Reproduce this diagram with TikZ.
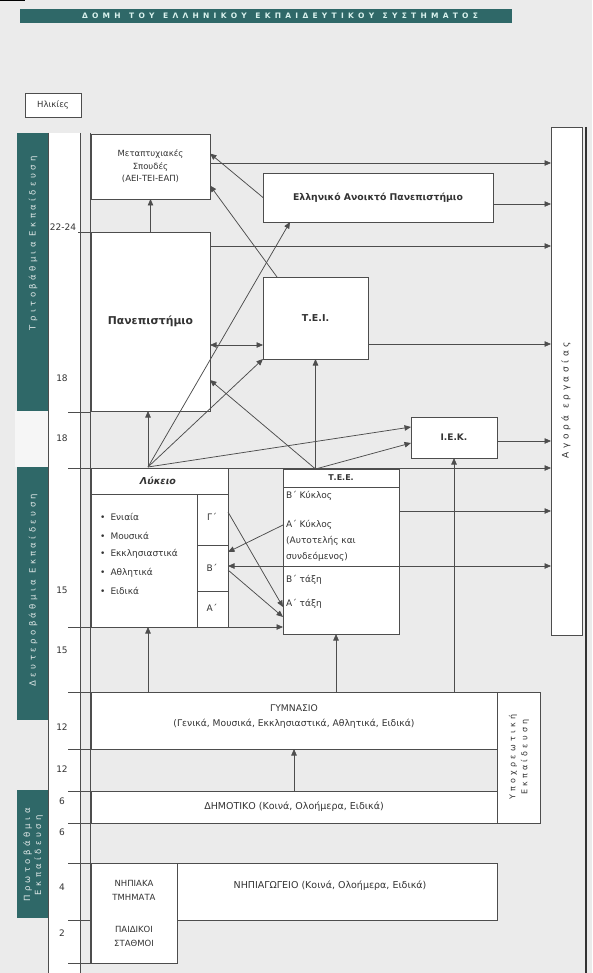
\documentclass[tikz,border=0pt]{standalone}
\usepackage{fontspec}
\setmainfont{DejaVu Sans}
\newfontfamily\spfont[LetterSpace=40]{DejaVu Sans}
\usetikzlibrary{arrows.meta,calc}
\definecolor{bg}{HTML}{EBEBEB}
\definecolor{teal1}{HTML}{2F6868}
\definecolor{lc}{HTML}{4D4D4D}
\definecolor{tc}{HTML}{333333}
\definecolor{ttl}{HTML}{D9F2EE}
\begin{document}
\begin{tikzpicture}[x=1pt,y=-1pt,
  bx/.style={draw=lc,fill=white,line width=0.9pt,inner sep=0pt,outer sep=0pt,anchor=north west,text=tc,align=center,font=\fontsize{8.5}{12.5}\selectfont},
  arr/.style={draw=lc,line width=0.75pt,-{Triangle[length=6.5pt,width=5.5pt]}},
  darr/.style={draw=lc,line width=0.75pt,{Triangle[length=6.5pt,width=5.5pt]}-{Triangle[length=6.5pt,width=5.5pt]}},
  ln/.style={draw=lc,line width=0.9pt},
  txt/.style={text=tc,inner sep=0pt,font=\fontsize{9}{10}\selectfont},
  side/.style={text=white!85!teal1,inner sep=0pt,rotate=90,align=center,font=\spfont\fontsize{8.5}{11}\selectfont},
  age/.style={text=tc,inner sep=0pt,font=\fontsize{9}{10}\selectfont},
]
\useasboundingbox (0,0) rectangle (592,973);
\fill[bg] (0,0) rectangle (592,973);
\fill[black] (0,0) rectangle (25,1.5);
\draw[black!80,line width=1.5pt] (586,127) -- (586,973);

% title
\fill[teal1] (20,9) rectangle (512,23);
\node[text=ttl,inner sep=0pt,font=\bfseries\fontsize{7.5}{8}\selectfont] (title) at (280,16)
  {\makebox[396pt][s]{Δ Ο Μ Η\ \ Τ Ο Υ\ \ Ε Λ Λ Η Ν Ι Κ Ο Υ\ \ Ε Κ Π Α Ι Δ Ε Υ Τ Ι Κ Ο Υ\ \ Σ Υ Σ Τ Η Μ Α Τ Ο Σ}};

% ages box
\node[bx,minimum width=56,minimum height=24] (ages) at (25,93) {Ηλικίες};

% left column
\fill[white] (48,133) rectangle (80,973);
\fill[white!55!bg] (15,411) rectangle (48,467);
\fill[teal1] (17,133) rectangle (48,411);
\fill[teal1] (17,467) rectangle (48,720);
\fill[teal1] (17,790) rectangle (48,918);
\draw[ln,line width=0.6pt] (48,133) -- (48,973);
\draw[ln] (80,133) -- (80,973);
\draw[ln] (90,133) -- (90,963);
\draw[ln] (78,232) -- (91,232);
\foreach \yy in {412,468,627,692,749,791,823,863,920,963} \draw[ln] (68,\yy) -- (91,\yy);

\node[side] (s1) at (33,243) {Τριτοβάθμια Εκπαίδευση};
\node[side] (s2) at (33,590) {Δευτεροβάθμια Εκπαίδευση};
\node[side] (s3) at (33,855) {Πρωτοβάθμια\\Εκπαίδευση};

\node[age] (g1) at (63,227) {22-24};
\node[age] (g2) at (62,378) {18};
\node[age] (g3) at (62,438) {18};
\node[age] (g4) at (62,590) {15};
\node[age] (g5) at (62,650) {15};
\node[age] (g6) at (62,727) {12};
\node[age] (g7) at (62,769) {12};
\node[age] (g8) at (62,801) {6};
\node[age] (g9) at (62,832) {6};
\node[age] (g10) at (62,887) {4};
\node[age] (g11) at (62,933) {2};

% boxes
\node[bx,minimum width=119,minimum height=65] (meta) at (91,134) {Μεταπτυχιακές\\Σπουδές\\(ΑΕΙ-ΤΕΙ-ΕΑΠ)};
\node[bx,minimum width=230,minimum height=49,font=\bfseries\fontsize{9.3}{10}\selectfont] (eap) at (263,173) {Ελληνικό Ανοικτό Πανεπιστήμιο};
\node[bx,minimum width=119,minimum height=179,font=\bfseries\fontsize{10.8}{12}\selectfont] (uni) at (91,232) {Πανεπιστήμιο};
\node[bx,minimum width=105,minimum height=82,font=\bfseries\fontsize{9.5}{10}\selectfont] (tei) at (263,277) {Τ.Ε.Ι.};
\node[bx,minimum width=86,minimum height=41,font=\bfseries\fontsize{9}{10}\selectfont] (iek) at (411,417) {Ι.Ε.Κ.};
\node[bx,minimum width=31,minimum height=508] (agora) at (551,127) {};
\node[txt,rotate=90,font=\spfont\fontsize{9}{10}\selectfont] (agt) at (566,400) {Αγορά εργασίας};

% Lykeio
\node[bx,minimum width=137,minimum height=159] (lyk) at (91,468) {};
\draw[ln] (91,494) -- (228,494);
\draw[ln] (197,494) -- (197,627);
\draw[ln] (197,545) -- (228,545);
\draw[ln] (197,591) -- (228,591);
\node[txt,font=\bfseries\itshape\fontsize{9.5}{10}\selectfont] (lykh) at (158,481) {Λύκειο};
\node[txt,anchor=west] (l1) at (100,517) {•\hspace{5pt}Ενιαία};
\node[txt,anchor=west] (l2) at (100,536) {•\hspace{5pt}Μουσικά};
\node[txt,anchor=west] (l3) at (100,554) {•\hspace{5pt}Εκκλησιαστικά};
\node[txt,anchor=west] (l4) at (100,573) {•\hspace{5pt}Αθλητικά};
\node[txt,anchor=west] (l5) at (100,591) {•\hspace{5pt}Ειδικά};
\node[txt] (lg) at (212,517) {Γ΄};
\node[txt] (lb) at (212,568) {Β΄};
\node[txt] (la) at (212,608) {Α΄};

% TEE
\node[bx,minimum width=116,minimum height=165] (tee) at (283,469) {};
\draw[ln] (283,487) -- (399,487);
\draw[ln] (283,566) -- (399,566);
\node[txt,font=\bfseries\fontsize{8}{9}\selectfont] (teeh) at (341,478) {Τ.Ε.Ε.};
\node[txt,anchor=west] (t1) at (286,496) {Β΄ Κύκλος};
\node[txt,anchor=west,align=left,font=\fontsize{9}{16}\selectfont] (t2) at (286,541) {Α΄ Κύκλος\\(Αυτοτελής και\\συνδεόμενος)};
\node[txt,anchor=west] (t3) at (286,580) {Β΄ τάξη};
\node[txt,anchor=west] (t4) at (286,604) {Α΄ τάξη};

% lower boxes
\node[bx,minimum width=406,minimum height=57] (gym) at (91,692) {};
\node[txt,align=center,font=\fontsize{9.2}{15}\selectfont] (gymt) at (294,717) {ΓΥΜΝΑΣΙΟ\\(Γενικά, Μουσικά, Εκκλησιαστικά, Αθλητικά, Ειδικά)};
\node[bx,minimum width=43,minimum height=131] (obl) at (497,692) {};
\node[txt,rotate=90,align=center,font=\spfont\fontsize{8}{12}\selectfont] (oblt) at (519,757) {Υποχρεωτική\\Εκπαίδευση};
\node[bx,minimum width=406,minimum height=32,font=\fontsize{9.5}{10}\selectfont] (dim) at (91,791) {ΔΗΜΟΤΙΚΟ (Κοινά, Ολοήμερα, Ειδικά)};
\node[bx,minimum width=320,minimum height=57] (nip) at (177,863) {};
\node[txt,font=\fontsize{9.5}{10}\selectfont] (nipt) at (330,886) {ΝΗΠΙΑΓΩΓΕΙΟ (Κοινά, Ολοήμερα, Ειδικά)};
\node[bx,minimum width=86,minimum height=100] (nipk) at (91,863) {};
\node[txt,align=center,font=\fontsize{8.5}{14}\selectfont] (nk1) at (134,890) {ΝΗΠΙΑΚΑ\\ΤΜΗΜΑΤΑ};
\node[txt,align=center,font=\fontsize{8.5}{14}\selectfont] (nk2) at (134,936) {ΠΑΙΔΙΚΟΙ\\ΣΤΑΘΜΟΙ};

% connectors
\draw[arr] (uni.north) -- (meta.south);
\draw[arr] (eap.west) -- ([yshift=13pt]meta.east);
\draw[arr] ([xshift=14pt]tei.north west) -- ([yshift=-19pt]meta.east);
\draw[arr] ([yshift=3.5pt]meta.east) coordinate (h1) -- (h1 -| agora.west);
\draw[arr] ([yshift=-6.5pt]eap.east) coordinate (h2) -- (h2 -| agora.west);
\draw[arr] ([yshift=-14pt]uni.north east) coordinate (h3) -- (h3 -| agora.west);
\draw[arr] ([yshift=-26pt]tei.east) coordinate (h4) -- (h4 -| agora.west);
\draw[arr] ([yshift=-3.5pt]iek.east) coordinate (h5) -- (h5 -| agora.west);
\coordinate (a18) at (68,468);
\draw[arr] (a18) -- (a18 -| agora.west);
\draw[arr] ([yshift=-42pt]tee.north east) coordinate (h6) -- (h6 -| agora.west);
\draw[arr] ([yshift=-97pt]tee.north east) coordinate (h7) -- (h7 -| agora.west);
\draw[darr] ([yshift=-113pt]uni.north east) coordinate (h8) -- (h8 -| tei.west);

\coordinate (lykf) at (148,467);
\draw[arr] (lykf) -- (lykf |- uni.south);
\draw[arr] (lykf) -- ([xshift=27pt]eap.south west);
\draw[arr] (lykf) -- (tei.south west);
\draw[arr] (lykf) -- ([yshift=10.5pt]iek.west);

\coordinate (teef) at (tei.south |- tee.north);
\draw[arr] (teef) -- (tei.south);
\draw[arr] (teef) -- ([yshift=-148pt]uni.north east);
\draw[arr] (teef) -- ([yshift=-5.5pt]iek.west);

\draw[arr] ([yshift=-56pt]tee.north west) -- ([yshift=-84pt]lyk.north east);
\draw[arr] ([yshift=-97pt]tee.north west) -- ([yshift=-98pt]lyk.north east);
\draw[arr] ([yshift=-44pt]lyk.north east) -- ([yshift=-138pt]tee.north west);
\draw[arr] ([yshift=-102pt]lyk.north east) -- ([yshift=-148pt]tee.north west);
\coordinate (a15) at (68,627);
\draw[arr] (a15) -- (a15 -| tee.west);

\draw[arr] ([xshift=57pt]gym.north west) coordinate (v1) -- (v1 |- lyk.south);
\draw[arr] ([xshift=245pt]gym.north west) coordinate (v2) -- (v2 |- tee.south);
\draw[arr] (iek.south |- gym.north) -- (iek.south);
\draw[arr] (gym.south |- dim.north) -- (gym.south);
\end{tikzpicture}
\end{document}
